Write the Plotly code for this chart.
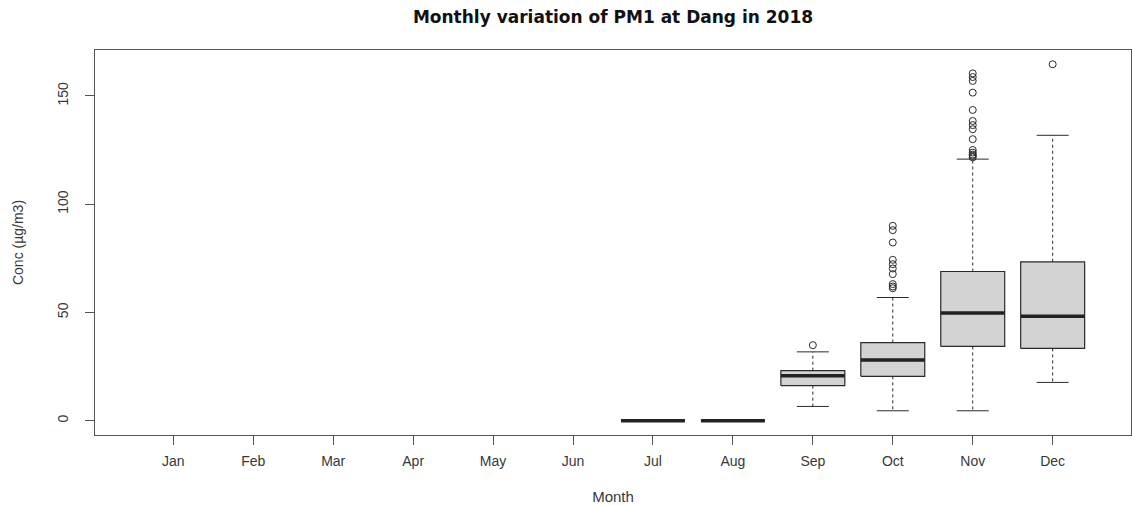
import plotly.graph_objects as go

# ---- data ----
months = ["Jan", "Feb", "Mar", "Apr", "May", "Jun",
          "Jul", "Aug", "Sep", "Oct", "Nov", "Dec"]
box_months = ["Jul", "Aug", "Sep", "Oct", "Nov", "Dec"]
lower_whisker = [0, 0, 6.6, 4.6, 4.6, 17.7]
q1 = [0, 0, 16.2, 20.5, 34.3, 33.4]
median = [0, 0, 20.8, 28.0, 49.7, 48.2]
q3 = [0, 0, 23.1, 36.1, 68.9, 73.4]
upper_whisker = [0, 0, 31.8, 56.9, 120.8, 131.8]
outliers_sep = [34.9]
outliers_oct = [90.0, 88.0, 82.3, 74.3, 72.3, 70.3, 67.7, 63.1, 62.0, 61.2]
outliers_nov = [160.4, 158.7, 156.9, 151.5, 143.5, 138.4, 136.5, 134.6,
                130.0, 125.0, 123.8, 122.9, 122.3, 121.6]
outliers_dec = [164.6]
y_ticks = [0, 50, 100, 150]

outliers = {"Sep": outliers_sep, "Oct": outliers_oct,
            "Nov": outliers_nov, "Dec": outliers_dec}

BOXW = 0.8     # box width (x units)
CAPW = 0.4     # staple width
LINE = "#2a2a2a"
FILL = "#d3d3d3"

pos = {m: i + 1 for i, m in enumerate(months)}

bx, by = [], []
mx, my = [], []
wx, wy = [], []
cx, cy = [], []
for i, m in enumerate(box_months):
    p = pos[m]
    l, r = p - BOXW / 2, p + BOXW / 2
    bx += [l, r, r, l, l, None]
    by += [q1[i], q1[i], q3[i], q3[i], q1[i], None]
    mx += [l, r, None]
    my += [median[i], median[i], None]
    if upper_whisker[i] > q3[i]:
        wx += [p, p, None]
        wy += [q3[i], upper_whisker[i], None]
        cx += [p - CAPW / 2, p + CAPW / 2, None]
        cy += [upper_whisker[i], upper_whisker[i], None]
    if lower_whisker[i] < q1[i]:
        wx += [p, p, None]
        wy += [q1[i], lower_whisker[i], None]
        cx += [p - CAPW / 2, p + CAPW / 2, None]
        cy += [lower_whisker[i], lower_whisker[i], None]

ox, oy = [], []
for m, vals in outliers.items():
    ox += [pos[m]] * len(vals)
    oy += vals

fig = go.Figure()
fig.add_trace(go.Scatter(x=wx, y=wy, mode="lines",
                         line=dict(color=LINE, width=1, dash="3px,3px"),
                         hoverinfo="skip"))
fig.add_trace(go.Scatter(x=cx, y=cy, mode="lines",
                         line=dict(color=LINE, width=1), hoverinfo="skip"))
fig.add_trace(go.Scatter(x=bx, y=by, mode="lines", fill="toself",
                         fillcolor=FILL, line=dict(color=LINE, width=1.2),
                         hoverinfo="skip"))
fig.add_trace(go.Scatter(x=mx, y=my, mode="lines",
                         line=dict(color="#222222", width=3.5),
                         hoverinfo="skip"))
fig.add_trace(go.Scatter(x=ox, y=oy, mode="markers",
                         marker=dict(symbol="circle-open", size=7,
                                     color=LINE, line=dict(width=1)),
                         hoverinfo="skip"))

# R-style axis ranges: data range extended by 4% on each side
all_vals = lower_whisker + upper_whisker + oy
ymin, ymax = min(all_vals), max(all_vals)
ext = (ymax - ymin) * 0.04
xext = len(months) * 0.04

fig.update_layout(
    width=1132, height=505,
    paper_bgcolor="white", plot_bgcolor="white",
    showlegend=False,
    margin=dict(l=95, r=1, t=50, b=70),
    font=dict(family="Liberation Sans, Arial, sans-serif", size=14,
              color="#383838"),
    title=dict(text="<b>Monthly variation of PM1 at Dang in 2018</b>",
               x=0.5, xref="paper", y=1 - 17 / 505, yref="container",
               yanchor="middle", xanchor="center",
               font=dict(family="DejaVu Sans, sans-serif", size=17,
                         color="#111111")),
)
fig.update_xaxes(
    automargin=False,
    range=[0.5 - xext, len(months) + 0.5 + xext],
    tickmode="array", tickvals=list(range(1, len(months) + 1)),
    ticktext=months, ticks="outside", ticklen=9, tickcolor="#555555",
    ticklabelstandoff=4, tickfont=dict(size=14),
    showline=True, mirror=True, linecolor="#555555", linewidth=1.3,
    showgrid=False, zeroline=False,
    title=dict(text="Month", standoff=23, font=dict(size=15)),
)
fig.update_yaxes(
    automargin=False,
    range=[ymin - ext, ymax + ext],
    tickmode="array", tickvals=y_ticks, tickangle=-90,
    ticks="outside", ticklen=9, tickcolor="#555555",
    ticklabelstandoff=11, tickfont=dict(size=14),
    showline=True, mirror=True, linecolor="#555555", linewidth=1.3,
    showgrid=False, zeroline=False,
    title=dict(text="Conc (µg/m3)", standoff=28, font=dict(size=14)),
)

fig.write_html(
    "out.html",
    config={"displayModeBar": False},
    post_script="document.body.style.margin='0';"
                "document.body.style.overflow='hidden';",
)
